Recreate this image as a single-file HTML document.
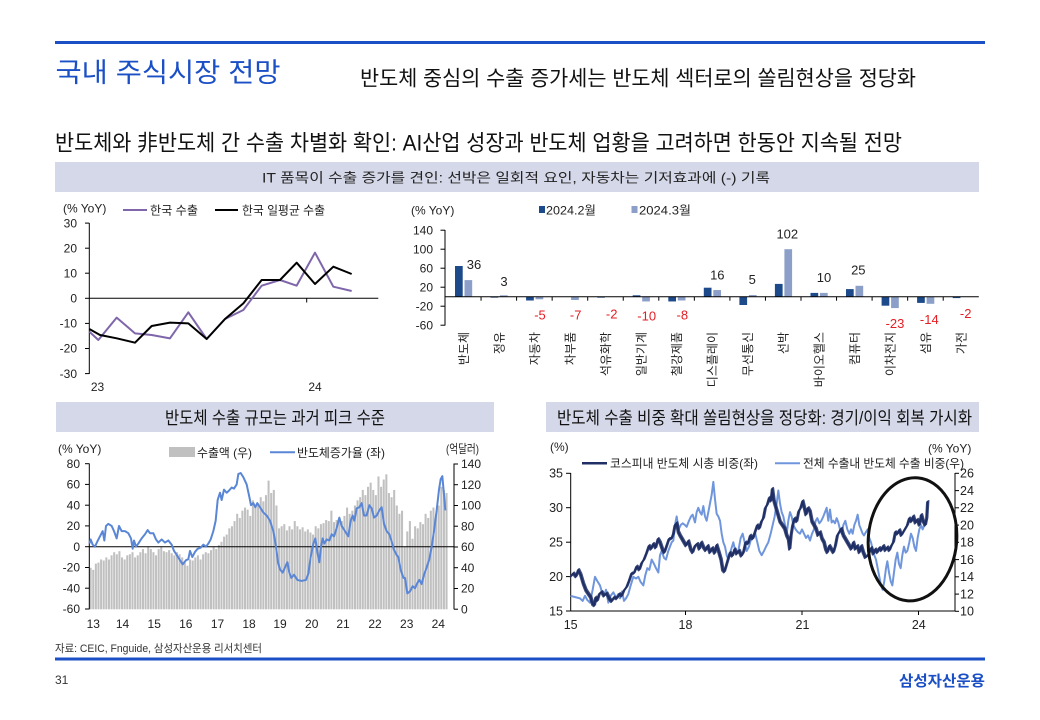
<!DOCTYPE html>
<html><head><meta charset="utf-8">
<style>
html,body{margin:0;padding:0;background:#fff;width:1040px;height:720px;overflow:hidden}
svg{display:block}
text{font-family:'Liberation Sans','Noto Sans CJK KR',sans-serif}
</style></head><body>
<svg width="1040" height="720" viewBox="0 0 1040 720" xmlns="http://www.w3.org/2000/svg">
<rect width="1040" height="720" fill="#fff"/>
<!-- header -->
<rect x="55" y="41" width="930" height="3" fill="#1b4fc6"/>
<text x="55.5" y="82" font-size="27" fill="#1b4fc6" textLength="225" lengthAdjust="spacingAndGlyphs">국내 주식시장 전망</text>
<text x="360" y="85.7" font-size="21" fill="#111" textLength="556" lengthAdjust="spacingAndGlyphs">반도체 중심의 수출 증가세는 반도체 섹터로의 쏠림현상을 정당화</text>
<text x="55" y="150.7" font-size="22" fill="#111" textLength="847" lengthAdjust="spacingAndGlyphs">반도체와 非반도체 간 수출 차별화 확인: AI산업 성장과 반도체 업황을 고려하면 한동안 지속될 전망</text>
<rect x="55" y="162" width="924" height="30" fill="#d5d8e8"/>
<text x="262" y="182.3" font-size="13.5" fill="#222" textLength="508" lengthAdjust="spacingAndGlyphs">IT 품목이 수출 증가를 견인: 선박은 일회적 요인, 자동차는 기저효과에 (-) 기록</text>

<!-- chart 1 -->
<g font-size="12" fill="#222">
<text x="63" y="212.5">(% YoY)</text>
<text x="150" y="214.3" textLength="48" lengthAdjust="spacingAndGlyphs">한국 수출</text>
<text x="242" y="214.3" textLength="83" lengthAdjust="spacingAndGlyphs">한국 일평균 수출</text>
</g>
<line x1="123" y1="210" x2="147" y2="210" stroke="#7f66ab" stroke-width="2"/>
<line x1="215" y1="210" x2="238" y2="210" stroke="#000" stroke-width="2"/>
<g stroke="#000" stroke-width="1">
<line x1="89.3" y1="223" x2="89.3" y2="374"/>
<line x1="85" y1="223.1" x2="89.3" y2="223.1"/><line x1="85" y1="248.2" x2="89.3" y2="248.2"/>
<line x1="85" y1="273.2" x2="89.3" y2="273.2"/><line x1="85" y1="298.3" x2="89.3" y2="298.3"/>
<line x1="85" y1="323.4" x2="89.3" y2="323.4"/><line x1="85" y1="348.5" x2="89.3" y2="348.5"/>
<line x1="85" y1="373.6" x2="89.3" y2="373.6"/>
<line x1="89.3" y1="298.3" x2="378.3" y2="298.3"/>
<line x1="306.7" y1="298.3" x2="306.7" y2="302.5"/>
</g>
<g font-size="12" fill="#222" text-anchor="end">
<text x="77" y="227.3">30</text><text x="77" y="252.4">20</text><text x="77" y="277.4">10</text>
<text x="77" y="302.5">0</text><text x="77" y="327.6">-10</text><text x="77" y="352.7">-20</text><text x="77" y="377.8">-30</text>
</g>
<g font-size="12" fill="#222" text-anchor="middle">
<text x="97.5" y="391">23</text><text x="315" y="391">24</text>
</g>
<g transform="translate(50,195) scale(0.33333)" fill="none" stroke-linejoin="round">
<polyline vector-effect="non-scaling-stroke" stroke="#7f66ab" stroke-width="2" points="118,410 145,435 200,368 255,415 305,420 360,430 415,352 470,432 525,372 580,345 635,272 690,255 740,272 795,173 850,275 905,288"/>
<polyline vector-effect="non-scaling-stroke" stroke="#000" stroke-width="2" points="118,402 150,420 200,430 255,443 305,393 360,383 415,385 470,432 525,372 580,325 635,255 690,255 740,203 795,267 850,215 905,237"/>
</g>

<!-- chart 2 -->
<g font-size="12" fill="#222">
<text x="411" y="214.5">(% YoY)</text>
<text x="546" y="214.5" textLength="50" lengthAdjust="spacingAndGlyphs">2024.2월</text>
<text x="639" y="214.5" textLength="52" lengthAdjust="spacingAndGlyphs">2024.3월</text>
</g>
<rect x="539" y="206" width="6" height="7" fill="#1d4a8a"/>
<rect x="631.5" y="206" width="6" height="7" fill="#8c9fc8"/>
<g stroke="#000" stroke-width="1">
<line x1="445" y1="230" x2="445" y2="325.5"/>
<line x1="440.5" y1="230.2" x2="445" y2="230.2"/><line x1="440.5" y1="249.2" x2="445" y2="249.2"/>
<line x1="440.5" y1="268.2" x2="445" y2="268.2"/><line x1="440.5" y1="287.2" x2="445" y2="287.2"/>
<line x1="440.5" y1="306.2" x2="445" y2="306.2"/><line x1="440.5" y1="325.2" x2="445" y2="325.2"/>
</g>
<g font-size="12" fill="#222" text-anchor="end">
<text x="433" y="234.4">140</text><text x="433" y="253.4">100</text><text x="433" y="272.4">60</text>
<text x="433" y="291.4">20</text><text x="433" y="310.4">-20</text><text x="433" y="329.4">-60</text>
</g>
<g fill="#1d4a8a">
<rect x="455.0" y="266.0" width="7.7" height="30.7"/>
<rect x="490.5" y="296.7" width="7.7" height="0.95"/>
<rect x="526.1" y="296.7" width="7.7" height="3.8"/>
<rect x="597.2" y="296.7" width="7.7" height="0.95"/>
<rect x="632.7" y="295.3" width="7.7" height="1.4"/>
<rect x="668.3" y="296.7" width="7.7" height="4.75"/>
<rect x="703.8" y="287.7" width="7.7" height="9.0"/>
<rect x="739.4" y="296.7" width="7.7" height="8.3"/>
<rect x="774.9" y="283.9" width="7.7" height="12.8"/>
<rect x="810.5" y="292.9" width="7.7" height="3.8"/>
<rect x="846.0" y="289.1" width="7.7" height="7.6"/>
<rect x="881.6" y="296.7" width="7.7" height="9.0"/>
<rect x="917.1" y="296.7" width="7.7" height="6.2"/>
<rect x="952.7" y="296.7" width="7.7" height="1.4"/>
</g>
<g fill="#8c9fc8">
<rect x="464.5" y="280.1" width="7.7" height="16.6"/>
<rect x="500.0" y="295.3" width="7.7" height="1.4"/>
<rect x="535.6" y="296.7" width="7.7" height="2.6"/>
<rect x="571.1" y="296.7" width="7.7" height="3.3"/>
<rect x="642.2" y="296.7" width="7.7" height="4.75"/>
<rect x="677.8" y="296.7" width="7.7" height="3.8"/>
<rect x="713.3" y="290.05" width="7.7" height="6.65"/>
<rect x="748.9" y="295.0" width="7.7" height="1.7"/>
<rect x="784.4" y="249.2" width="7.7" height="47.5"/>
<rect x="820.0" y="292.9" width="7.7" height="3.8"/>
<rect x="855.5" y="285.8" width="7.7" height="10.9"/>
<rect x="891.1" y="296.7" width="7.7" height="11.4"/>
<rect x="926.6" y="296.7" width="7.7" height="7.1"/>
</g>
<g stroke="#000" stroke-width="1">
<line x1="445" y1="296.7" x2="978.8" y2="296.7"/>
<line x1="481.05" y1="296.7" x2="481.05" y2="300.7"/><line x1="516.6" y1="296.7" x2="516.6" y2="300.7"/>
<line x1="552.15" y1="296.7" x2="552.15" y2="300.7"/><line x1="587.7" y1="296.7" x2="587.7" y2="300.7"/>
<line x1="623.25" y1="296.7" x2="623.25" y2="300.7"/><line x1="658.8" y1="296.7" x2="658.8" y2="300.7"/>
<line x1="694.35" y1="296.7" x2="694.35" y2="300.7"/><line x1="729.9" y1="296.7" x2="729.9" y2="300.7"/>
<line x1="765.45" y1="296.7" x2="765.45" y2="300.7"/><line x1="801.0" y1="296.7" x2="801.0" y2="300.7"/>
<line x1="836.55" y1="296.7" x2="836.55" y2="300.7"/><line x1="872.1" y1="296.7" x2="872.1" y2="300.7"/>
<line x1="907.65" y1="296.7" x2="907.65" y2="300.7"/><line x1="943.2" y1="296.7" x2="943.2" y2="300.7"/>
</g>
<g font-size="13" text-anchor="middle" fill="#222">
<text x="474" y="268.8">36</text><text x="504" y="286.2">3</text>
<text x="717.3" y="279.5">16</text><text x="752.3" y="283.8">5</text><text x="787.3" y="238.5">102</text>
<text x="824" y="281.8">10</text><text x="858.3" y="274.5">25</text>
</g>
<g font-size="13" text-anchor="middle" fill="#e31e24">
<text x="540" y="319.5">-5</text><text x="575.7" y="319.5">-7</text><text x="611.7" y="318.5">-2</text>
<text x="646.7" y="320.5">-10</text><text x="682.3" y="319.5">-8</text>
<text x="895" y="327.8">-23</text><text x="929.3" y="323.8">-14</text><text x="965.7" y="317.8">-2</text>
</g>
<g font-size="12" fill="#222" text-anchor="end">
<text transform="translate(467.8,332) rotate(-90)">반도체</text>
<text transform="translate(503.3,332) rotate(-90)">정유</text>
<text transform="translate(538.9,332) rotate(-90)">자동차</text>
<text transform="translate(574.4,332) rotate(-90)">차부품</text>
<text transform="translate(610.0,332) rotate(-90)">석유화학</text>
<text transform="translate(645.5,332) rotate(-90)">일반기계</text>
<text transform="translate(681.1,332) rotate(-90)">철강제품</text>
<text transform="translate(716.6,332) rotate(-90)">디스플레이</text>
<text transform="translate(752.2,332) rotate(-90)">무선통신</text>
<text transform="translate(787.7,332) rotate(-90)">선박</text>
<text transform="translate(823.3,332) rotate(-90)">바이오헬스</text>
<text transform="translate(858.8,332) rotate(-90)">컴퓨터</text>
<text transform="translate(894.4,332) rotate(-90)">이차전지</text>
<text transform="translate(929.9,332) rotate(-90)">섬유</text>
<text transform="translate(965.5,332) rotate(-90)">가전</text>
</g>

<!-- bottom-left chart -->
<rect x="56" y="402" width="438" height="30" fill="#d5d8e8"/>
<text x="165" y="424" font-size="17.5" fill="#111" textLength="220" lengthAdjust="spacingAndGlyphs">반도체 수출 규모는 과거 피크 수준</text>
<g font-size="12" fill="#222">
<text x="58" y="453">(% YoY)</text>
<text x="197" y="457" textLength="55" lengthAdjust="spacingAndGlyphs">수출액 (우)</text>
<text x="297" y="457" textLength="88" lengthAdjust="spacingAndGlyphs">반도체증가율 (좌)</text>
<text x="446" y="453" textLength="33" lengthAdjust="spacingAndGlyphs">(억달러)</text>
</g>
<rect x="169" y="447" width="26" height="10" fill="#c0c0c0"/>
<line x1="270" y1="452.3" x2="295" y2="452.3" stroke="#5a86d6" stroke-width="2"/>
<g transform="matrix(2.617,0,0,-1.038,89.6,609.3)" fill="#c0c0c0">
<rect x="0" y="0" width="0.78" height="40"/><rect x="1" y="0" width="0.78" height="38"/><rect x="2" y="0" width="0.78" height="44"/><rect x="3" y="0" width="0.78" height="45"/><rect x="4" y="0" width="0.78" height="48"/><rect x="5" y="0" width="0.78" height="47"/><rect x="6" y="0" width="0.78" height="50"/><rect x="7" y="0" width="0.78" height="48"/><rect x="8" y="0" width="0.78" height="52"/><rect x="9" y="0" width="0.78" height="55"/><rect x="10" y="0" width="0.78" height="53"/><rect x="11" y="0" width="0.78" height="56"/>
<rect x="12" y="0" width="0.78" height="50"/><rect x="13" y="0" width="0.78" height="48"/><rect x="14" y="0" width="0.78" height="52"/><rect x="15" y="0" width="0.78" height="53"/><rect x="16" y="0" width="0.78" height="55"/><rect x="17" y="0" width="0.78" height="50"/><rect x="18" y="0" width="0.78" height="52"/><rect x="19" y="0" width="0.78" height="55"/><rect x="20" y="0" width="0.78" height="58"/><rect x="21" y="0" width="0.78" height="54"/><rect x="22" y="0" width="0.78" height="60"/><rect x="23" y="0" width="0.78" height="58"/>
<rect x="24" y="0" width="0.78" height="55"/><rect x="25" y="0" width="0.78" height="52"/><rect x="26" y="0" width="0.78" height="58"/><rect x="27" y="0" width="0.78" height="60"/><rect x="28" y="0" width="0.78" height="56"/><rect x="29" y="0" width="0.78" height="55"/><rect x="30" y="0" width="0.78" height="57"/><rect x="31" y="0" width="0.78" height="54"/><rect x="32" y="0" width="0.78" height="52"/><rect x="33" y="0" width="0.78" height="55"/><rect x="34" y="0" width="0.78" height="53"/><rect x="35" y="0" width="0.78" height="50"/>
<rect x="36" y="0" width="0.78" height="45"/><rect x="37" y="0" width="0.78" height="42"/><rect x="38" y="0" width="0.78" height="48"/><rect x="39" y="0" width="0.78" height="47"/><rect x="40" y="0" width="0.78" height="50"/><rect x="41" y="0" width="0.78" height="52"/><rect x="42" y="0" width="0.78" height="48"/><rect x="43" y="0" width="0.78" height="53"/><rect x="44" y="0" width="0.78" height="55"/><rect x="45" y="0" width="0.78" height="54"/><rect x="46" y="0" width="0.78" height="57"/><rect x="47" y="0" width="0.78" height="60"/>
<rect x="48" y="0" width="0.78" height="58"/><rect x="49" y="0" width="0.78" height="62"/><rect x="50" y="0" width="0.78" height="65"/><rect x="51" y="0" width="0.78" height="70"/><rect x="52" y="0" width="0.78" height="72"/><rect x="53" y="0" width="0.78" height="78"/><rect x="54" y="0" width="0.78" height="80"/><rect x="55" y="0" width="0.78" height="85"/><rect x="56" y="0" width="0.78" height="92"/><rect x="57" y="0" width="0.78" height="88"/><rect x="58" y="0" width="0.78" height="95"/><rect x="59" y="0" width="0.78" height="98"/>
<rect x="60" y="0" width="0.78" height="96"/><rect x="61" y="0" width="0.78" height="90"/><rect x="62" y="0" width="0.78" height="105"/><rect x="63" y="0" width="0.78" height="100"/><rect x="64" y="0" width="0.78" height="102"/><rect x="65" y="0" width="0.78" height="108"/><rect x="66" y="0" width="0.78" height="104"/><rect x="67" y="0" width="0.78" height="110"/><rect x="68" y="0" width="0.78" height="124"/><rect x="69" y="0" width="0.78" height="112"/><rect x="70" y="0" width="0.78" height="115"/><rect x="71" y="0" width="0.78" height="100"/>
<rect x="72" y="0" width="0.78" height="78"/><rect x="73" y="0" width="0.78" height="80"/><rect x="74" y="0" width="0.78" height="82"/><rect x="75" y="0" width="0.78" height="76"/><rect x="76" y="0" width="0.78" height="80"/><rect x="77" y="0" width="0.78" height="77"/><rect x="78" y="0" width="0.78" height="85"/><rect x="79" y="0" width="0.78" height="80"/><rect x="80" y="0" width="0.78" height="77"/><rect x="81" y="0" width="0.78" height="79"/><rect x="82" y="0" width="0.78" height="75"/><rect x="83" y="0" width="0.78" height="77"/>
<rect x="84" y="0" width="0.78" height="74"/><rect x="85" y="0" width="0.78" height="72"/><rect x="86" y="0" width="0.78" height="80"/><rect x="87" y="0" width="0.78" height="78"/><rect x="88" y="0" width="0.78" height="82"/><rect x="89" y="0" width="0.78" height="83"/><rect x="90" y="0" width="0.78" height="86"/><rect x="91" y="0" width="0.78" height="85"/><rect x="92" y="0" width="0.78" height="95"/><rect x="93" y="0" width="0.78" height="84"/><rect x="94" y="0" width="0.78" height="86"/><rect x="95" y="0" width="0.78" height="88"/>
<rect x="96" y="0" width="0.78" height="85"/><rect x="97" y="0" width="0.78" height="90"/><rect x="98" y="0" width="0.78" height="98"/><rect x="99" y="0" width="0.78" height="92"/><rect x="100" y="0" width="0.78" height="95"/><rect x="101" y="0" width="0.78" height="100"/><rect x="102" y="0" width="0.78" height="105"/><rect x="103" y="0" width="0.78" height="108"/><rect x="104" y="0" width="0.78" height="115"/><rect x="105" y="0" width="0.78" height="110"/><rect x="106" y="0" width="0.78" height="118"/><rect x="107" y="0" width="0.78" height="122"/>
<rect x="108" y="0" width="0.78" height="115"/><rect x="109" y="0" width="0.78" height="110"/><rect x="110" y="0" width="0.78" height="128"/><rect x="111" y="0" width="0.78" height="118"/><rect x="112" y="0" width="0.78" height="125"/><rect x="113" y="0" width="0.78" height="130"/><rect x="114" y="0" width="0.78" height="112"/><rect x="115" y="0" width="0.78" height="108"/><rect x="116" y="0" width="0.78" height="115"/><rect x="117" y="0" width="0.78" height="100"/><rect x="118" y="0" width="0.78" height="92"/><rect x="119" y="0" width="0.78" height="95"/>
<rect x="120" y="0" width="0.78" height="60"/><rect x="121" y="0" width="0.78" height="75"/><rect x="122" y="0" width="0.78" height="85"/><rect x="123" y="0" width="0.78" height="68"/><rect x="124" y="0" width="0.78" height="80"/><rect x="125" y="0" width="0.78" height="78"/><rect x="126" y="0" width="0.78" height="84"/><rect x="127" y="0" width="0.78" height="82"/><rect x="128" y="0" width="0.78" height="92"/><rect x="129" y="0" width="0.78" height="88"/><rect x="130" y="0" width="0.78" height="95"/><rect x="131" y="0" width="0.78" height="98"/>
<rect x="132" y="0" width="0.78" height="92"/><rect x="133" y="0" width="0.78" height="100"/><rect x="134" y="0" width="0.78" height="118"/><rect x="135" y="0" width="0.78" height="115"/><rect x="136" y="0" width="0.78" height="112"/>
</g>
<g stroke="#000" stroke-width="1">
<line x1="89.3" y1="463.5" x2="89.3" y2="609.3"/>
<line x1="85" y1="463.7" x2="89.3" y2="463.7"/><line x1="85" y1="484.4" x2="89.3" y2="484.4"/>
<line x1="85" y1="505.2" x2="89.3" y2="505.2"/><line x1="85" y1="525.9" x2="89.3" y2="525.9"/>
<line x1="85" y1="546.7" x2="89.3" y2="546.7"/><line x1="85" y1="567.5" x2="89.3" y2="567.5"/>
<line x1="85" y1="588.2" x2="89.3" y2="588.2"/><line x1="85" y1="609" x2="89.3" y2="609"/>
<line x1="454" y1="463.5" x2="454" y2="609.3"/>
<line x1="454" y1="464" x2="458" y2="464"/><line x1="454" y1="484.7" x2="458" y2="484.7"/>
<line x1="454" y1="505.5" x2="458" y2="505.5"/><line x1="454" y1="526.2" x2="458" y2="526.2"/>
<line x1="454" y1="547" x2="458" y2="547"/><line x1="454" y1="567.7" x2="458" y2="567.7"/>
<line x1="454" y1="588.5" x2="458" y2="588.5"/><line x1="454" y1="609.2" x2="458" y2="609.2"/>
<line x1="89.3" y1="546.7" x2="454" y2="546.7"/>
</g>
<g transform="matrix(0.33333,0,0,-1.038,50,546.7)">
<polyline vector-effect="non-scaling-stroke" fill="none" stroke="#5a86d6" stroke-width="2" stroke-linejoin="round" points="118,3 122,7 128,2 135,0 142,5 150,10 158,15 163,6 168,20 175,22 185,20 192,15 200,8 207,20 215,15 225,15 235,13 243,8 248,-2 252,6 258,0 265,3 275,8 285,12 293,16 300,13 310,13 318,7 325,4 335,7 345,4 355,6 365,2 372,-4 380,-8 388,-12 398,-17 408,-13 415,-12 420,-4 427,-10 435,-5 443,-2 452,-1 460,2 468,0 475,3 482,7 490,15 497,25 503,45 510,52 515,45 522,55 530,52 537,54 545,57 552,56 560,60 565,70 572,71 580,67 590,60 598,48 603,40 610,42 616,38 622,42 630,38 640,33 650,30 660,25 670,15 678,0 684,-15 690,-22 698,-25 705,-20 712,-15 718,-25 724,-30 732,-27 742,-32 755,-33 768,-32 775,-26 782,-10 790,3 796,8 802,-5 808,-15 813,0 818,8 823,3 830,7 838,6 845,12 852,10 860,18 868,28 875,20 885,15 895,10 902,25 908,30 913,25 920,37 928,38 935,42 942,30 950,30 958,40 965,37 972,28 980,30 988,35 995,38 1002,22 1010,15 1018,12 1025,5 1032,-3 1040,-8 1045,-10 1052,-22 1060,-30 1065,-30 1072,-45 1080,-43 1088,-38 1095,-40 1102,-35 1108,-32 1115,-36 1122,-27 1130,-20 1138,-12 1145,0 1152,15 1160,35 1167,55 1172,65 1177,68 1182,50 1186,35"/>
</g>
<g font-size="12" fill="#222" text-anchor="end">
<text x="80" y="467.9">80</text><text x="80" y="488.6">60</text><text x="80" y="509.4">40</text><text x="80" y="530.1">20</text>
<text x="80" y="550.9">0</text><text x="80" y="571.7">-20</text><text x="80" y="592.4">-40</text><text x="80" y="613.2">-60</text>
</g>
<g font-size="12" fill="#222">
<text x="461" y="468.2">140</text><text x="461" y="488.9">120</text><text x="461" y="509.7">100</text><text x="461" y="530.4">80</text>
<text x="461" y="551.2">60</text><text x="461" y="571.9">40</text><text x="461" y="592.7">20</text><text x="461" y="613.4">0</text>
</g>
<g font-size="12" fill="#222" text-anchor="middle">
<text x="93.3" y="628">13</text><text x="122.5" y="628">14</text><text x="154.2" y="628">15</text><text x="185.8" y="628">16</text>
<text x="217.5" y="628">17</text><text x="249" y="628">18</text><text x="280" y="628">19</text><text x="311.7" y="628">20</text>
<text x="343" y="628">21</text><text x="375" y="628">22</text><text x="406.7" y="628">23</text><text x="438.3" y="628">24</text>
</g>

<!-- bottom-right chart -->
<rect x="546" y="402" width="433" height="30" fill="#d5d8e8"/>
<text x="557" y="424" font-size="17.5" fill="#111" textLength="415" lengthAdjust="spacingAndGlyphs">반도체 수출 비중 확대 쏠림현상을 정당화: 경기/이익 회복 가시화</text>
<g font-size="12" fill="#222">
<text x="550" y="451">(%)</text>
<text x="928" y="452.5">(% YoY)</text>
<text x="610" y="467.5" textLength="148" lengthAdjust="spacingAndGlyphs">코스피내 반도체 시총 비중(좌)</text>
<text x="803" y="467.5" textLength="161" lengthAdjust="spacingAndGlyphs">전체 수출내 반도체 수출 비중(우)</text>
</g>
<line x1="582" y1="463.3" x2="607" y2="463.3" stroke="#1f2f66" stroke-width="2.5"/>
<line x1="775" y1="463.3" x2="800" y2="463.3" stroke="#6f96dc" stroke-width="2"/>
<g stroke="#000" stroke-width="1">
<line x1="570.7" y1="473" x2="570.7" y2="611"/>
<line x1="566" y1="473.3" x2="570.7" y2="473.3"/><line x1="566" y1="507.7" x2="570.7" y2="507.7"/>
<line x1="566" y1="542.2" x2="570.7" y2="542.2"/><line x1="566" y1="576.6" x2="570.7" y2="576.6"/>
<line x1="566" y1="611" x2="570.7" y2="611"/>
<line x1="955" y1="473" x2="955" y2="611.3"/>
<line x1="955" y1="473.3" x2="959" y2="473.3"/><line x1="955" y1="490.6" x2="959" y2="490.6"/>
<line x1="955" y1="507.8" x2="959" y2="507.8"/><line x1="955" y1="525.1" x2="959" y2="525.1"/>
<line x1="955" y1="542.3" x2="959" y2="542.3"/><line x1="955" y1="559.6" x2="959" y2="559.6"/>
<line x1="955" y1="576.8" x2="959" y2="576.8"/><line x1="955" y1="594.1" x2="959" y2="594.1"/>
<line x1="955" y1="611.3" x2="959" y2="611.3"/>
<line x1="570.7" y1="611" x2="955" y2="611"/>
<line x1="685.5" y1="611" x2="685.5" y2="615"/><line x1="802" y1="611" x2="802" y2="615"/><line x1="918.5" y1="611" x2="918.5" y2="615"/>
</g>
<g font-size="12.5" fill="#222" text-anchor="end">
<text x="563" y="477.6">35</text><text x="563" y="512">30</text><text x="563" y="546.5">25</text><text x="563" y="580.9">20</text><text x="563" y="615.3">15</text>
</g>
<g font-size="12.5" fill="#222">
<text x="960" y="477.6">26</text><text x="960" y="494.9">24</text><text x="960" y="512.1">22</text><text x="960" y="529.4">20</text>
<text x="960" y="546.6">18</text><text x="960" y="563.9">16</text><text x="960" y="581.1">14</text><text x="960" y="598.4">12</text><text x="960" y="615.6">10</text>
</g>
<g font-size="12.5" fill="#222" text-anchor="middle">
<text x="570.7" y="629">15</text><text x="685.5" y="629">18</text><text x="802.5" y="629">21</text><text x="918.8" y="629">24</text>
</g>
<g transform="matrix(0.33333,0,0,-8.625,540,697.55)">
<polyline vector-effect="non-scaling-stroke" fill="none" stroke="#6f96dc" stroke-width="2" stroke-linejoin="round" points="92,11.8 100,11.7 110,11.6 120,11.5 128,11.2 135,11.8 142,11.3 150,11 158,12.5 165,14 172,13.5 180,13 186,12.2 192,11.8 198,12.5 205,11 212,11.8 220,12.2 228,11.6 235,12 240,11.5 246,12.3 252,11.2 258,11.5 265,12 272,13 280,14 288,13.8 295,14 302,13.4 310,13 316,14.2 322,15 328,14.8 335,16 342,15.5 348,15 355,14.5 360,16.5 365,17 372,16.2 378,16 385,17 390,17.5 395,18 400,18.2 405,20 410,21 416,19.5 422,20 428,20.2 435,20 440,19.8 447,20.5 453,21 458,21.2 465,20.3 470,21.5 475,22 480,21.5 485,21.2 490,22.2 495,21 500,20.5 505,21.5 510,22.5 515,23.5 520,25 525,23 530,21.3 535,21 540,20.5 545,19 550,18 555,17.5 560,16.5 565,16 572,17 580,18 587,16.8 595,17 602,18.5 608,19 614,18 620,17 627,17.5 634,18.5 640,18.5 646,19 652,18 658,17 665,16.5 672,17 678,17.5 685,18 692,19 698,20 704,21 710,22.5 715,24 720,22.5 725,21.5 730,21 735,20 740,19 745,20.5 750,21.5 755,21 760,20 767,19.5 773,19.2 780,19 786,19.5 792,19 798,18.5 804,18.8 810,18.2 816,19 822,19.5 827,20.5 832,20.8 838,20.2 844,20.5 850,21 855,21.5 860,22 865,20.5 870,21.8 875,20.3 880,20.5 885,20.2 890,20.8 895,20.3 900,19.5 905,19 910,20 916,20.5 922,19.5 928,19 933,19.5 938,19 943,20 948,20.5 953,21.2 958,20 963,19.5 968,19 972,18.8 978,19.2 983,19.5 988,18.5 993,18 998,17.2 1003,16.5 1008,16 1013,15 1018,14 1023,13 1028,12.5 1033,13.5 1038,15 1042,15.8 1047,14.5 1052,13.5 1057,13 1062,14.5 1067,16 1072,16.8 1077,15.5 1082,15 1087,16.5 1092,17.5 1097,16.8 1102,17 1108,18 1113,19 1118,18.5 1123,17.5 1128,17 1133,18.5 1138,19.5 1143,20 1148,19.5 1153,20 1158,20.5 1162,20.8"/>
</g>
<g transform="matrix(0.33333,0,0,-6.88,540,714.2)">
<polyline id="navy" vector-effect="non-scaling-stroke" fill="none" stroke="#1f2f66" stroke-width="1.8" stroke-linejoin="round" points="92,20 100,20.5 108,20 115,21 122,20.3 130,19 138,18 145,17.5 152,17 158,16 163,15.8 167,17 172,16.5 178,17.5 185,17.8 192,17.2 200,17.6 208,16.8 215,16.4 222,17 230,16.8 238,17.5 245,17.2 252,18 260,18.5 268,19.5 275,20.5 282,20.5 290,21.5 298,21 305,22 312,22.5 320,23.5 327,24.5 333,24 340,24.8 347,24.2 354,25.5 360,25 367,24 373,23.5 380,24.5 387,25.5 394,25.5 400,26.2 405,27.5 410,27.8 415,26.5 420,26 426,25.5 432,25 438,24.5 445,25.2 452,24 458,23.5 465,24.5 472,24.8 478,24 484,25 490,24.3 497,23.8 503,24.5 510,23.5 517,24.2 524,23.4 530,24.6 537,23.5 543,22.5 548,21 553,20.7 558,21.5 564,22.5 570,23.5 577,23 584,24 590,23.3 597,23.8 604,23 610,23.5 617,25 624,24.8 631,26 638,25.5 645,26.5 652,27.5 658,27 664,28 670,28.5 676,30 682,30.5 688,31.5 693,31 697,32.8 702,31 708,30 714,29 720,28 727,27.5 734,27 740,26 745,25.5 749,24 753,26 758,27.5 764,28.5 770,28 776,29.5 782,30 788,31 793,30 798,29 804,30 810,29.5 816,28 822,27.5 828,27 834,26 840,26.5 846,25.5 852,25 857,24 862,23.5 868,24.5 874,24 880,23.5 886,24.5 892,26 898,26.5 904,27 910,26 916,25.5 922,25 928,24.5 934,24 940,25 946,24 952,24.5 958,23.5 964,24.5 970,23.5 976,22.8 982,23 988,23.5 994,24.2 1000,23.3 1006,24 1012,23.5 1018,24.2 1024,23.8 1030,24.5 1036,23.8 1042,24.3 1048,23.8 1054,24.5 1060,25 1066,26.5 1072,26.2 1078,26.8 1084,26 1090,26.5 1096,27 1102,27.5 1108,28.5 1114,28 1120,28.8 1126,27.8 1132,28.3 1138,27.5 1144,29 1150,28 1156,27.5 1160,28.5 1163,31"/>
</g>
<g transform="translate(0.9,-0.8)" opacity="0.85"><g transform="matrix(0.33333,0,0,-6.88,540,714.2)"><use href="#navy" stroke-width="1"/></g></g>
<g transform="translate(-0.7,0.8)" opacity="0.85"><g transform="matrix(0.33333,0,0,-6.88,540,714.2)"><use href="#navy" stroke-width="1"/></g></g>
<ellipse cx="912.5" cy="539.3" rx="44.2" ry="61.7" transform="rotate(5 912.5 539.3)" fill="none" stroke="#111" stroke-width="3"/>

<!-- footer -->
<text x="55" y="652" font-size="11" fill="#333" textLength="207" lengthAdjust="spacingAndGlyphs">자료: CEIC, Fnguide, 삼성자산운용 리서치센터</text>
<rect x="55" y="657.5" width="930" height="3" fill="#1b4fc6"/>
<text x="55" y="684" font-size="12" fill="#333">31</text>
<text x="899" y="686" font-size="15" font-weight="bold" fill="#1b4fc6" textLength="86" lengthAdjust="spacingAndGlyphs">삼성자산운용</text>
</svg>
</body></html>
